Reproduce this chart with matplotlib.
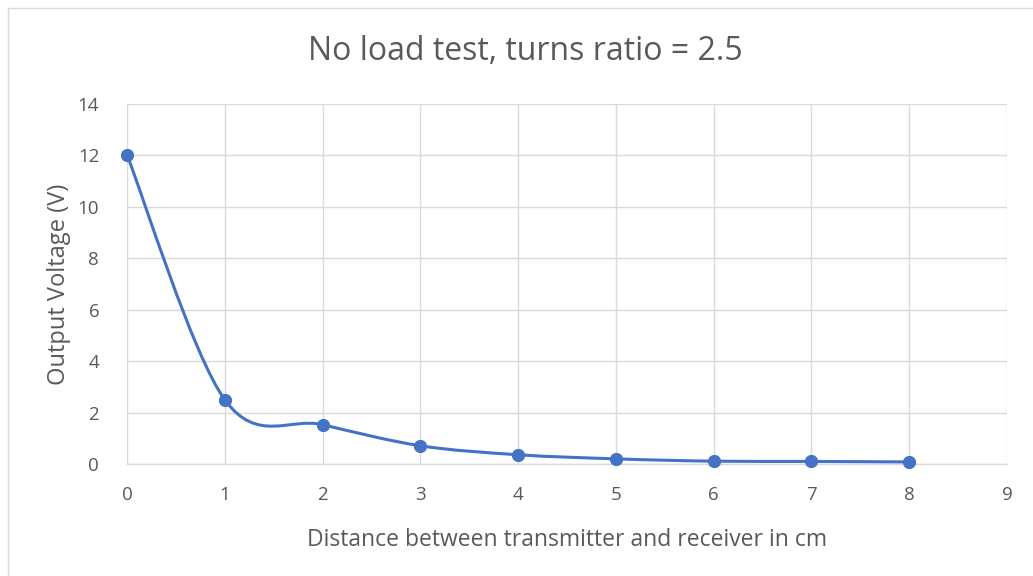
import numpy as np
import matplotlib
matplotlib.use("Agg")
import matplotlib.pyplot as plt
from matplotlib.patches import Rectangle
from matplotlib.path import Path
from matplotlib.patches import PathPatch

distance_cm = [0, 1, 2, 3, 4, 5, 6, 7, 8]
output_voltage = [12.02, 2.5, 1.53, 0.71, 0.36, 0.2, 0.11, 0.1, 0.08]
x_ticks = list(range(0, 10))
y_ticks = list(range(0, 15, 2))

plt.rcParams['font.family'] = ['Open Sans', 'DejaVu Sans']

fig = plt.figure(figsize=(10.33, 5.76), dpi=100)
fig.patches.append(Rectangle((8/1033, -0.1), 1.2, (576-8)/576 + 0.1, transform=fig.transFigure,
                             fill=False, edgecolor='#d9d9d9', linewidth=1))
ax = fig.add_axes([127/1033, (576-464)/576, (1007-127)/1033, (464-104)/576])

color = '#4472C4'
# Excel-like smooth curve (Catmull-Rom Bezier)
x = np.array(distance_cm, float)
y = np.array(output_voltage, float)
n = len(x)
verts = [(x[0], y[0])]
codes = [Path.MOVETO]
for i in range(n - 1):
    p0 = (x[max(i-1, 0)], y[max(i-1, 0)])
    p1 = (x[i], y[i])
    p2 = (x[i+1], y[i+1])
    p3 = (x[min(i+2, n-1)], y[min(i+2, n-1)])
    c1 = (p1[0] + (p2[0]-p0[0])/6, p1[1] + (p2[1]-p0[1])/6)
    c2 = (p2[0] - (p3[0]-p1[0])/6, p2[1] - (p3[1]-p1[1])/6)
    verts += [c1, c2, p2]
    codes += [Path.CURVE4]*3
ax.add_patch(PathPatch(Path(verts, codes), fill=False, edgecolor=color, linewidth=2.2, zorder=3))
ax.plot(distance_cm, output_voltage, linestyle='none', marker='o', markersize=8.5,
        color=color, zorder=4, clip_on=False)

ax.set_xlim(0, 9)
ax.set_ylim(0, 14)
ax.set_xticks(x_ticks)
ax.set_yticks(y_ticks)
ax.grid(True, color='#d9d9d9', linewidth=1)
ax.set_axisbelow(True)
for s in ['top', 'right', 'left']:
    ax.spines[s].set_visible(False)
ax.spines['bottom'].set_color('#d9d9d9')
ax.spines['bottom'].set_linewidth(1)
ax.tick_params(length=0, labelsize=13.5, colors='#595959')
ax.tick_params(axis='x', pad=16)
ax.tick_params(axis='y', pad=20)
for lbl in ax.get_yticklabels():
    lbl.set_horizontalalignment('right')

ax.set_xlabel('Distance between transmitter and receiver in cm', fontsize=16.5, color='#595959', labelpad=17)
ax.set_ylabel('Output Voltage (V)', fontsize=17, color='#595959', labelpad=5)
fig.text(525/1033, 1 - 51/576, 'No load test, turns ratio = 2.5', ha='center', va='center',
         fontsize=23, color='#595959')

fig.savefig('out.png', dpi=100)
